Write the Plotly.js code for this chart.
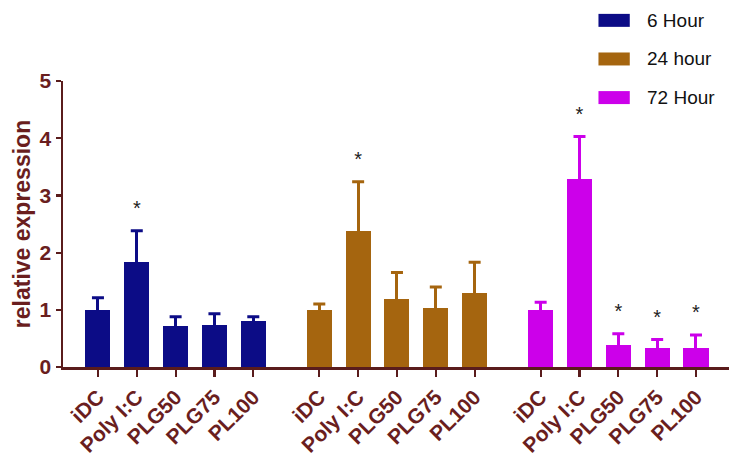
<!DOCTYPE html>
<html>
<head>
<meta charset="utf-8">
<script src="https://cdn.plot.ly/plotly-3.0.1.min.js"></script>
<style>
  html, body { margin: 0; padding: 0; background: #ffffff; }
  #chart { width: 741px; height: 458px; }
</style>
</head>
<body>
<div id="chart"></div>
<script>
// ---- data ----
const categories = ['iDC', 'Poly I:C', 'PLG50', 'PLG75', 'PL100'];
const seriesNames = ['6 Hour', '24 hour', '72 Hour'];
const mean6h  = [1.00, 1.84, 0.71, 0.74, 0.81];
const err6h   = [0.21, 0.54, 0.17, 0.19, 0.07];
const mean24h = [1.00, 2.37, 1.19, 1.04, 1.30];
const err24h  = [0.10, 0.87, 0.46, 0.36, 0.53];
const mean72h = [0.99, 3.29, 0.39, 0.34, 0.34];
const err72h  = [0.14, 0.74, 0.19, 0.14, 0.22];
const sig6h   = [false, true, false, false, false];
const sig24h  = [false, true, false, false, false];
const sig72h  = [false, true, true, true, true];

// ---- styling ----
const colors = ['#0c0c86', '#a5650f', '#cc00ea'];
const axisColor = '#5a1c1c';
const labelColor = '#6a1e1e';
const FONT = 'Liberation Sans, Arial, sans-serif';
const GROUP_STEP = 5.7;

const means = [mean6h, mean24h, mean72h];
const errs = [err6h, err24h, err72h];
const sigs = [sig6h, sig24h, sig72h];

const traces = [];
const capTraces = [];
const tickvals = [];
const ticktext = [];
const starX = [], starY = [];

means.forEach((m, g) => {
  const xs = categories.map((c, i) => g * GROUP_STEP + i);
  xs.forEach((x, i) => { tickvals.push(x); ticktext.push(categories[i]); });
  // bars with upper error stems (no caps)
  traces.push({
    type: 'bar',
    name: seriesNames[g],
    x: xs,
    y: m,
    width: 0.645,
    marker: { color: colors[g], line: { width: 0 } },
    error_y: {
      type: 'data',
      symmetric: false,
      array: errs[g],
      arrayminus: m.map(() => 0),
      color: colors[g],
      thickness: 3,
      width: 0
    },
    showlegend: false,
    hoverinfo: 'x+y'
  });
  // caps at the top of each error bar
  capTraces.push({
    type: 'scatter',
    mode: 'markers',
    x: xs,
    y: m.map((v, i) => v + errs[g][i]),
    marker: { size: 1, opacity: 0 },
    error_y: {
      type: 'data',
      array: m.map(() => 0),
      color: colors[g],
      thickness: 3,
      width: 6
    },
    showlegend: false,
    hoverinfo: 'skip'
  });
  sigs[g].forEach((s, i) => {
    if (s) { starX.push(xs[i]); starY.push(m[i] + errs[g][i] + 0.36); }
  });
});

const starTrace = {
  type: 'scatter',
  mode: 'text',
  x: starX,
  y: starY,
  text: starX.map(() => '*'),
  textposition: 'middle center',
  textfont: { family: FONT, size: 20, color: '#222222' },
  showlegend: false,
  hoverinfo: 'skip'
};

// custom legend (wide swatches like the reference)
const shapes = [];
const annotations = [];
const legendY = [1.212, 1.077, 0.942];
seriesNames.forEach((n, k) => {
  shapes.push({
    type: 'rect', xref: 'paper', yref: 'paper',
    x0: 0.804, x1: 0.851, y0: legendY[k] - 0.0227, y1: legendY[k] + 0.0227,
    fillcolor: colors[k], line: { width: 0 }
  });
  annotations.push({
    xref: 'paper', yref: 'paper', x: 0.874, y: legendY[k],
    xanchor: 'left', yanchor: 'middle', showarrow: false,
    text: n, font: { family: FONT, size: 19, color: '#111111' }
  });
});

const layout = {
  width: 741,
  height: 458,
  margin: { l: 63, r: 12, t: 81, b: 91, pad: 0 },
  paper_bgcolor: '#ffffff',
  plot_bgcolor: '#ffffff',
  showlegend: false,
  bargap: 0,
  xaxis: {
    range: [-0.9, 16.25],
    tickvals: tickvals,
    ticktext: ticktext,
    tickangle: -45,
    ticks: 'outside',
    ticklen: 7,
    tickwidth: 2.2,
    tickcolor: axisColor,
    showline: true,
    linecolor: axisColor,
    linewidth: 2.5,
    showgrid: false,
    zeroline: false,
    tickfont: { family: FONT, size: 21, color: labelColor, weight: 'bold' },
    fixedrange: true
  },
  yaxis: {
    range: [0, 5],
    dtick: 1,
    ticks: 'outside',
    ticklen: 5,
    tickwidth: 2.2,
    tickcolor: axisColor,
    showline: true,
    linecolor: axisColor,
    linewidth: 2.5,
    showgrid: false,
    zeroline: false,
    tickfont: { family: FONT, size: 21, color: labelColor, weight: 'bold' },
    title: {
      text: 'relative expression',
      font: { family: FONT, size: 23, color: labelColor, weight: 'bold' },
      standoff: 3
    },
    fixedrange: true
  },
  shapes: shapes,
  annotations: annotations
};

Plotly.newPlot('chart', traces.concat(capTraces, [starTrace]), layout, { displayModeBar: false, staticPlot: true });
</script>
</body>
</html>
